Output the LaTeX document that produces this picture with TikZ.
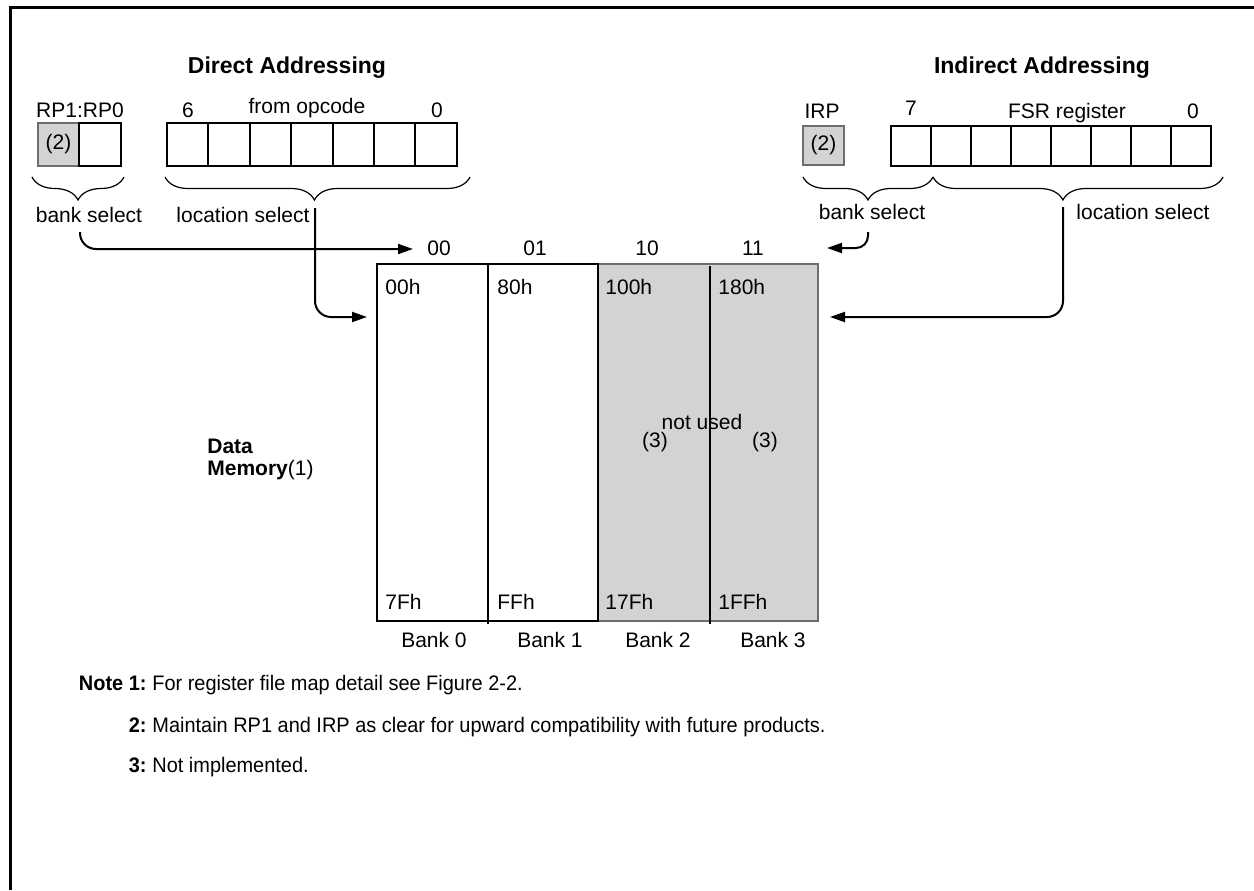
\documentclass[tikz,border=0pt]{standalone}
\usepackage{fontspec}
\setmainfont{Liberation Sans}
\newfontfamily\narrowfont[FakeStretch=0.95]{Liberation Sans}
\usetikzlibrary{arrows.meta,decorations.pathreplacing}
\definecolor{cellgray}{HTML}{D3D3D3}
\definecolor{edgegray}{HTML}{6E6E6E}
\begin{document}
\begin{tikzpicture}[x=0.5pt,y=-0.5pt,
  txt/.style={font=\fontsize{10.5}{12}\selectfont, inner sep=0pt, anchor=base},
  lt/.style={txt, anchor=base west},
  head/.style={font=\fontsize{11.5}{14}\selectfont\bfseries, inner sep=0pt, anchor=base},
  note/.style={font=\fontsize{10.5}{12}\selectfont\narrowfont, inner sep=0pt, anchor=base west},
  notelab/.style={font=\fontsize{10.5}{12}\selectfont\narrowfont\bfseries, inner sep=0pt, anchor=base east},
  cell/.style={draw=black, line width=1pt, inner sep=0pt, minimum width=20.7pt, minimum height=21.5pt},
  fcell/.style={draw=black, line width=1pt, inner sep=0pt, minimum width=20pt, minimum height=20pt},
  gcell/.style={draw=edgegray, fill=cellgray, line width=1pt, inner sep=0pt, font=\fontsize{10.5}{12}\selectfont},
  brace/.style={decorate, decoration={brace, mirror, amplitude=11.5pt, aspect=#1}, line width=0.6pt},
  conn/.style={line width=1pt, rounded corners=8pt, -{Triangle[length=7.5pt,width=5pt]}},
  frame/.style={line width=1.5pt}
]
\useasboundingbox (0,0) rectangle (1254,890);
% frame
\draw[frame] (10,890) -- (10,7) -- (1254,7);

% headings
\node[head] (hdir) at (287,73) {Direct Addressing};
\node[head] (hind) at (1042,73) {Indirect Addressing};

% ---------- direct side ----------
\node[txt] (rplab) at (80,117) {RP1:RP0};
\node[gcell, minimum width=20.5pt, minimum height=21.5pt] (rp1) at (58.5,144.5) {(2)};
\node[cell, minimum width=21pt] (rp0) at (100,144.5) {};
\node[txt] (op6) at (188,117) {6};
\node[txt] (oplab) at (307,113) {from opcode};
\node[txt] (op0) at (437,117) {0};
\foreach \i in {0,...,6} {
  \node[cell] (op\i c) at ({187.7+41.4*\i},144.5) {};
}
\draw[brace=0.5] (32,177) -- (124,177);
\draw[brace=0.49] (165,177) -- (470,177);
\node[txt] (bsL) at (89,222) {bank select};
\node[txt] (lsL) at (243,222) {location select};

% ---------- indirect side ----------
\node[txt] (irplab) at (822,118) {IRP};
\node[gcell, minimum width=20.5pt, minimum height=19.5pt] (irp) at (823.5,145.5) {(2)};
\node[txt] (fsr7) at (911,115) {7};
\node[txt] (fsrlab) at (1067,118) {FSR register};
\node[txt] (fsr0) at (1193,118) {0};
\foreach \i in {0,...,7} {
  \node[fcell] (fsr\i c) at ({911+40*\i},146) {};
}
\draw[brace=0.5] (803,177) -- (933,177);
\draw[brace=0.448] (933,177) -- (1223,177);
\node[txt] (bsR) at (872,219) {bank select};
\node[txt] (lsR) at (1143,219) {location select};

% ---------- memory ----------
\fill[cellgray] (598,264) rectangle (818,621);
\draw[edgegray, line width=1pt] (598,264) rectangle (818,621);
\draw[line width=1pt] (377,264) rectangle (598,621);
\draw[line width=1pt] (488,264) -- (488,624);
\draw[line width=1pt] (710,266) -- (710,624);

\node[txt] (c00) at (439,255) {00};
\node[txt] (c01) at (535,255) {01};
\node[txt] (c10) at (647,255) {10};
\node[txt] (c11) at (753,255) {11};

\node[lt] (a00) at (385,294) {00h};
\node[lt] (a80) at (497,294) {80h};
\node[lt] (a100) at (605,294) {100h};
\node[lt] (a180) at (718,294) {180h};
\node[lt] (a7F) at (385,609) {7Fh};
\node[lt] (aFF) at (497,609) {FFh};
\node[lt] (a17F) at (605,609) {17Fh};
\node[lt] (a1FF) at (718,609) {1FFh};

\node[txt] (nu) at (702,429) {not used};
\node[txt] (n3a) at (655,447) {(3)};
\node[txt] (n3b) at (765,447) {(3)};

\node[txt] (bk0) at (434,647) {Bank 0};
\node[txt] (bk1) at (550,647) {Bank 1};
\node[txt] (bk2) at (658,647) {Bank 2};
\node[txt] (bk3) at (773,647) {Bank 3};

\node[lt, font=\fontsize{10.5}{12}\selectfont\bfseries] (dm1) at (207,453) {Data};
\node[lt] (dm2) at (207,475) {\textbf{Memory}(1)};

% ---------- connectors ----------
\coordinate (bsLs) at (80,232);
\coordinate (bsLe) at (413,249);
\coordinate (lsLs) at (315,208);
\coordinate (lsLe) at (367,317);
\coordinate (bsRs) at (868,232);
\coordinate (bsRe) at (827,248);
\coordinate (lsRs) at (1063,207);
\coordinate (lsRe) at (830,317);
\draw[conn] (bsLs) |- (bsLe);
\draw[conn] (lsLs) |- (lsLe);
\draw[conn, rounded corners=6pt] (bsRs) |- (bsRe);
\draw[conn] (lsRs) |- (lsRe);

% ---------- notes ----------
\node[notelab] (nl1) at (147,690) {Note 1:};
\node[note] (nt1) at (152,690) {For register file map detail see Figure 2-2.};
\node[notelab] (nl2) at (147,732) {2:};
\node[note] (nt2) at (152,732) {Maintain RP1 and IRP as clear for upward compatibility with future products.};
\node[notelab] (nl3) at (147,772) {3:};
\node[note] (nt3) at (152,772) {Not implemented.};
\end{tikzpicture}
\end{document}
